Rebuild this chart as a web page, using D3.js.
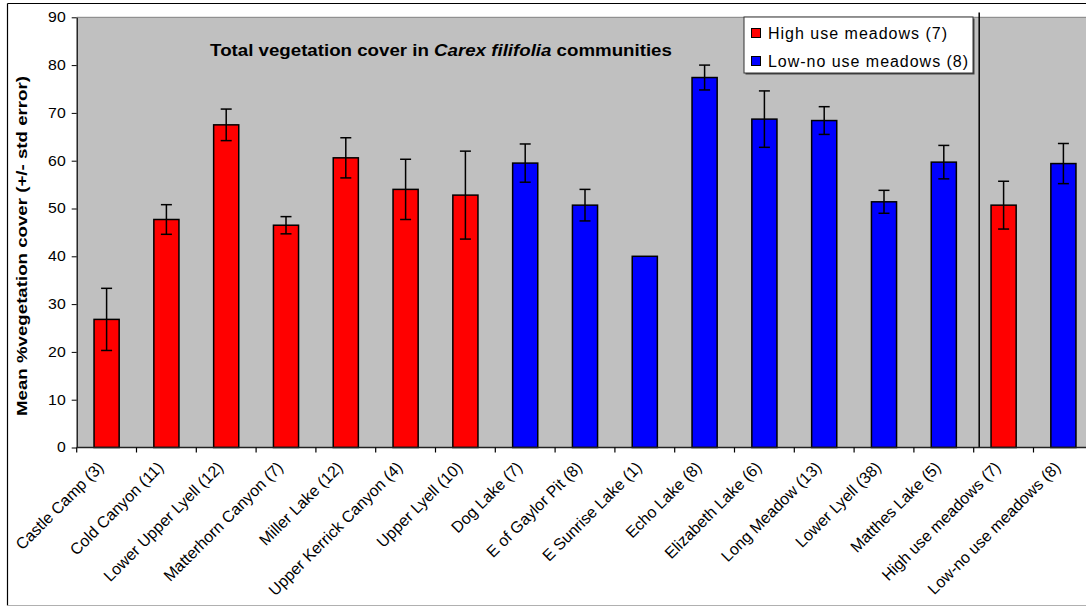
<!DOCTYPE html>
<html>
<head>
<meta charset="utf-8">
<script src="https://cdn.jsdelivr.net/npm/d3@7"></script>
<style>
  html, body { margin: 0; padding: 0; background: #fff; }
  svg { display: block; font-family: Arial, "Liberation Sans", sans-serif; }
</style>
</head>
<body>
<svg id="chart" width="1086" height="607"></svg>
<script>
// Meadow sites with sample sizes in parentheses
const categories = [
  "Castle Camp (3)", "Cold Canyon (11)", "Lower Upper Lyell (12)", "Matterhorn Canyon (7)",
  "Miller Lake (12)", "Upper Kerrick Canyon (4)", "Upper Lyell (10)", "Dog Lake (7)",
  "E of Gaylor Pit (8)", "E Sunrise Lake (1)", "Echo Lake (8)", "Elizabeth Lake (6)",
  "Long Meadow (13)", "Lower Lyell (38)", "Matthes Lake (5)", "High use meadows (7)",
  "Low-no use meadows (8)"
];
// Mean % vegetation cover
const means = [26.8, 47.7, 67.5, 46.5, 60.6, 54.0, 52.8, 59.5, 50.7, 40.0, 77.4, 68.7, 68.4, 51.4, 59.7, 50.7, 59.4];
// Standard error (null where only one sample)
const stdErrors = [6.5, 3.1, 3.3, 1.8, 4.2, 6.3, 9.2, 4.0, 3.3, null, 2.6, 5.9, 2.9, 2.4, 3.5, 5.0, 4.2];
// Use class of each meadow
const groups = ["high", "high", "high", "high", "high", "high", "high", "low", "low", "low",
  "low", "low", "low", "low", "low", "high", "low"];
const yTicks = [0, 10, 20, 30, 40, 50, 60, 70, 80, 90];
const legendItems = [
  { key: "high", label: "High use meadows (7)" },
  { key: "low", label: "Low-no use meadows (8)" }
];

const colors = { high: "#ff0000", low: "#0000ff" };

const svg = d3.select("#chart");
const W = 1086, H = 607;
const plotL = 76.7, plotT = 17.3, plotB = 447.5, step = 59.8;
const plotR = plotL + step * categories.length;

// Outer chart frame
svg.append("line").attr("x1", 7.5).attr("x2", W).attr("y1", 3.5).attr("y2", 3.5)
  .attr("stroke", "#000").attr("stroke-width", 1.2);
svg.append("line").attr("x1", 7.5).attr("x2", 7.5).attr("y1", 3.5).attr("y2", 605.5)
  .attr("stroke", "#000").attr("stroke-width", 1.2);
svg.append("line").attr("x1", 7.5).attr("x2", W).attr("y1", 605.5).attr("y2", 605.5)
  .attr("stroke", "#b0b0b0").attr("stroke-width", 1);

const x = d3.scaleBand().domain(categories).range([plotL, plotR])
  .paddingInner(0.58).paddingOuter(0.29);
const y = d3.scaleLinear().domain([0, 90]).range([plotB, plotT]);

// Plot area
svg.append("rect").attr("x", plotL).attr("y", plotT)
  .attr("width", plotR - plotL).attr("height", plotB - plotT)
  .attr("fill", "#c0c0c0");
svg.append("line").attr("x1", plotL).attr("x2", plotR).attr("y1", plotT).attr("y2", plotT)
  .attr("stroke", "#808080").attr("stroke-width", 1);

// Bars
const data = categories.map((c, i) => ({ c, m: means[i], se: stdErrors[i], g: groups[i] }));
svg.append("g").selectAll("rect").data(data).join("rect")
  .attr("x", d => x(d.c)).attr("y", d => y(d.m))
  .attr("width", x.bandwidth()).attr("height", d => y(0) - y(d.m))
  .attr("fill", d => colors[d.g]).attr("stroke", "#000").attr("stroke-width", 1.5);

// Error bars
const eb = svg.append("g").attr("stroke", "#000").attr("stroke-width", 1.5);
data.filter(d => d.se != null).forEach(d => {
  const cx = x(d.c) + x.bandwidth() / 2;
  eb.append("line").attr("x1", cx).attr("x2", cx).attr("y1", y(d.m + d.se)).attr("y2", y(d.m - d.se));
  eb.append("line").attr("x1", cx - 5.5).attr("x2", cx + 5.5).attr("y1", y(d.m + d.se)).attr("y2", y(d.m + d.se));
  eb.append("line").attr("x1", cx - 5.5).attr("x2", cx + 5.5).attr("y1", y(d.m - d.se)).attr("y2", y(d.m - d.se));
});

// Separator between individual meadows and group means
const sepX = plotL + step * 15 + 5.5;
svg.append("line").attr("x1", sepX).attr("x2", sepX).attr("y1", 12.5).attr("y2", plotB)
  .attr("stroke", "#000").attr("stroke-width", 1.5);

// Y axis
const yAxis = svg.append("g").attr("transform", `translate(${plotL},0)`)
  .call(d3.axisLeft(y).tickValues(yTicks).tickSize(5).tickPadding(6).tickSizeOuter(0));
yAxis.select(".domain").attr("stroke", "#000").attr("stroke-width", 1.2);
yAxis.selectAll(".tick text")
  .attr("font-size", 14).attr("fill", "#000")
  .attr("font-family", "Arial, 'Liberation Sans', sans-serif")
  .attr("x", null)
  .attr("transform", "translate(-11,0) scale(1.13,1)");

// X axis line and boundary ticks
svg.append("line").attr("x1", plotL).attr("x2", plotR).attr("y1", plotB).attr("y2", plotB)
  .attr("stroke", "#222").attr("stroke-width", 1.5);
svg.append("g").selectAll("line").data(d3.range(categories.length + 1)).join("line")
  .attr("x1", k => plotL + k * step).attr("x2", k => plotL + k * step)
  .attr("y1", plotB).attr("y2", plotB + 5)
  .attr("stroke", "#000").attr("stroke-width", 1.2);

// Rotated category labels
svg.append("g").selectAll("text").data(categories).join("text")
  .attr("transform", c => `translate(${x(c) + x.bandwidth() / 2 - 2},${plotB + 21}) rotate(-45)`)
  .attr("text-anchor", "end")
  .attr("font-size", 16).attr("fill", "#000")
  .text(c => c);

// Y axis title
svg.append("text")
  .attr("transform", "translate(27,246) rotate(-90)")
  .attr("text-anchor", "middle").attr("font-size", 15).attr("font-weight", "bold")
  .attr("textLength", 340).attr("lengthAdjust", "spacingAndGlyphs")
  .text("Mean %vegetation cover (+/- std error)");

// Chart title
const title = svg.append("text")
  .attr("transform", "translate(441,56) scale(1.1,1)")
  .attr("text-anchor", "middle").attr("font-size", 17).attr("font-weight", "bold");
title.append("tspan").text("Total vegetation cover in ");
title.append("tspan").attr("font-style", "italic").text("Carex filifolia");
title.append("tspan").text(" communities");

// Legend
const lg = svg.append("g");
lg.append("rect").attr("x", 745.5).attr("y", 18.5).attr("width", 229).attr("height", 56)
  .attr("fill", "#444");
lg.append("rect").attr("x", 744).attr("y", 17).attr("width", 229).attr("height", 56)
  .attr("fill", "#fff").attr("stroke", "#333").attr("stroke-width", 1);
const widths = [179, 200];
legendItems.forEach((it, i) => {
  const cy = 33 + i * 28;
  lg.append("rect").attr("x", 751.5).attr("y", cy - 4.5).attr("width", 9).attr("height", 9)
    .attr("fill", colors[it.key]).attr("stroke", "#000").attr("stroke-width", 1);
  lg.append("text").attr("x", 768).attr("y", cy + 6)
    .attr("font-size", 16).attr("textLength", widths[i]).attr("lengthAdjust", "spacing")
    .text(it.label);
});
</script>
</body>
</html>
